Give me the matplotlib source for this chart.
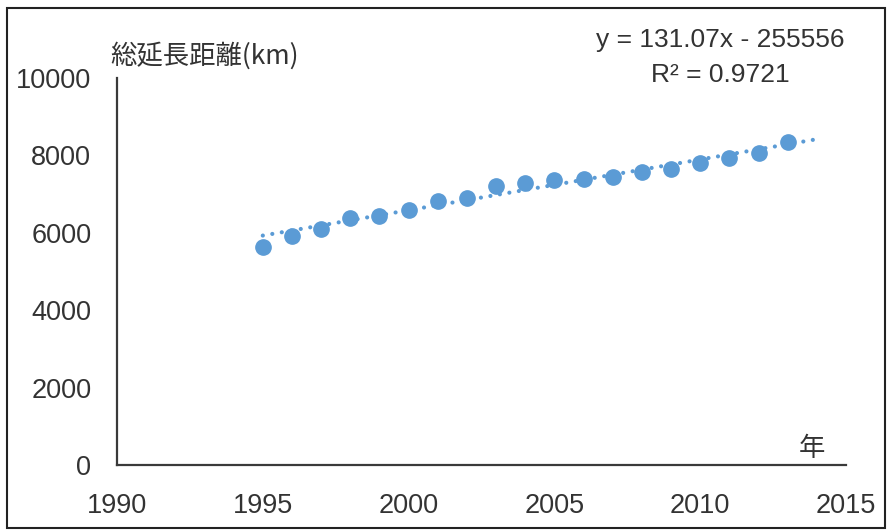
import matplotlib
matplotlib.use("Agg")
import matplotlib.pyplot as plt
from matplotlib.patches import Rectangle
import numpy as np

# 総延長距離 by year
years = [1995, 1996, 1997, 1998, 1999, 2000, 2001, 2002, 2003, 2004,
         2005, 2006, 2007, 2008, 2009, 2010, 2011, 2012, 2013]
length_km = [5625, 5920, 6090, 6375, 6435, 6590, 6830, 6890, 7210, 7295,
             7365, 7380, 7450, 7565, 7640, 7810, 7925, 8070, 8355]

# linear trendline as printed on the chart
slope = 131.07
intercept = -255556
r_squared = 0.9721
trend_years = [1995, 2014]

x_ticks = [1990, 1995, 2000, 2005, 2010, 2015]
y_ticks = [0, 2000, 4000, 6000, 8000, 10000]

plt.rcParams['font.family'] = ['Liberation Sans', 'Noto Sans CJK JP']
text_color = '#333333'
dot_color = '#5B9BD5'

fig = plt.figure(figsize=(8.88, 5.30), dpi=100)
ax = fig.add_axes([117 / 888, 1 - 465 / 530, (846 - 117) / 888, (465 - 78) / 530])

ax.plot(years, length_km, 'o', color=dot_color, markersize=11, zorder=3)

tx = np.array(trend_years, dtype=float)
ax.plot(tx, slope * tx + intercept, color=dot_color, linewidth=3.0,
        linestyle=(0, (0.01, 2.3)), dash_capstyle='round', zorder=2)

ax.set_xlim(1990, 2015)
ax.set_ylim(0, 10000)
ax.set_xticks(x_ticks)
ax.set_yticks(y_ticks)
ax.tick_params(axis='both', length=0, labelsize=19.5, colors=text_color)
ax.tick_params(axis='x', pad=20)
ax.tick_params(axis='y', pad=18.5)

for side in ['top', 'right']:
    ax.spines[side].set_visible(False)
for side in ['left', 'bottom']:
    ax.spines[side].set_color('#3a3a3a')
    ax.spines[side].set_linewidth(1.6)

# axis titles
fig.text(110 / 888, 1 - 56 / 530, '総延長距離(km)', fontsize=19, color=text_color,
         family=['Noto Sans CJK JP'], ha='left', va='center')
fig.text(812 / 888, 1 - 449 / 530, '年', fontsize=19, color=text_color,
         family=['Noto Sans CJK JP'], ha='center', va='center')

# trendline equation
fig.text(720 / 888, 1 - 40 / 530, f'y = {slope}x - {abs(intercept)}', fontsize=19,
         color=text_color, ha='center', va='center')
fig.text(720 / 888, 1 - 75 / 530, f'R² = {r_squared}', fontsize=19,
         color=text_color, ha='center', va='center')

# frame around the whole chart
fig.patches.append(Rectangle((7 / 888, 1 - 528 / 530), 878 / 888, 520 / 530,
                             transform=fig.transFigure, fill=False,
                             edgecolor='#222222', linewidth=1.5))

fig.savefig('out.png', dpi=100, facecolor='white')
